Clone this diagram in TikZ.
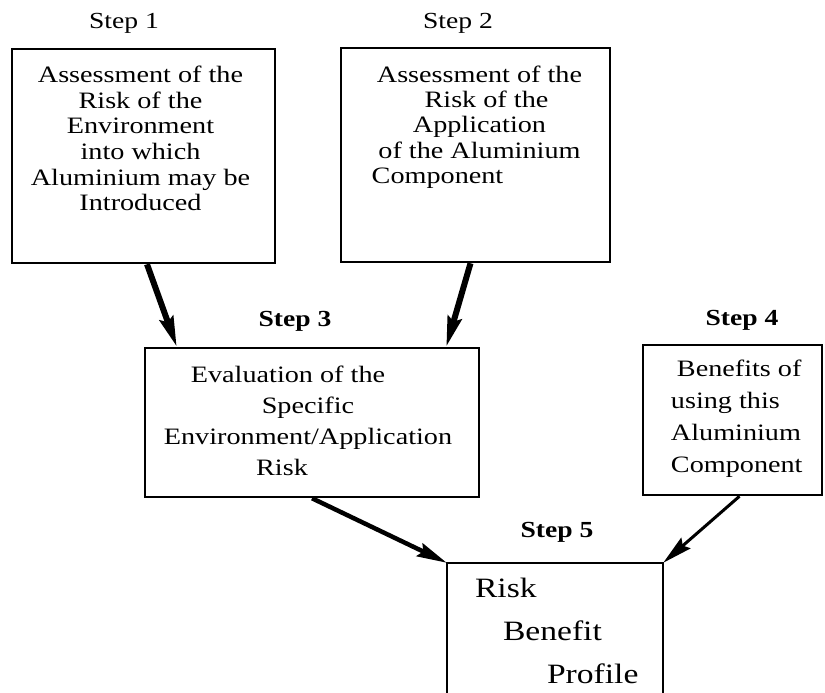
\documentclass[tikz,border=0pt]{standalone}
\usepackage{fontspec}
\setmainfont{Liberation Serif}[FakeStretch=1.2]
\usetikzlibrary{calc, arrows.meta}

\tikzset{
  frame/.style = {draw, line width=2.5pt, inner sep=0pt},
  boxtext/.style = {anchor=north, inner sep=0pt, align=center},
  steplabel/.style = {inner sep=0pt, font=\fontsize{23}{26}\selectfont},
  flow/.style = {line width=6pt, -{Stealth[length=30pt, width=14pt, inset=4pt]}}
}

\begin{document}
\begin{tikzpicture}[x=1pt, y=-1pt]
    \useasboundingbox (0,0) rectangle (825,693);
    % the five boxes
    \node[
    frame,
    minimum width = 263pt,
    minimum height = 214pt
    ] (s1) at (143.5,156){};
    \node[
    frame,
    minimum width = 269pt,
    minimum height = 214pt
    ] (s2) at (475.5,155){};
    \node[
    frame,
    minimum width = 334pt,
    minimum height = 149pt
    ] (s3) at (312,422.5){};
    \node[
    frame,
    minimum width = 179pt,
    minimum height = 150pt
    ] (s4) at (732.5,420){};
    \node[
    inner sep = 0pt,
    minimum width = 216pt,
    minimum height = 130pt
    ] (s5) at (555,628){};
    \draw[line width=2.5pt] (s5.south west) -- (s5.north west) -- (s5.north east) -- (s5.south east);
    % step labels
    \node[steplabel] (l1) at ($(s1.north)+(-19.5,-24)$){Step 1};
    \node[steplabel] (l2) at ($(s2.north)+(-17.5,-23)$){Step 2};
    \node[steplabel, font=\fontsize{23}{26}\selectfont\bfseries] (l3) at ($(s3.north)+(-17,-25)$){Step 3};
    \node[steplabel, font=\fontsize{23}{26}\selectfont\bfseries] (l4) at ($(s4.north)+(9.5,-23)$){Step 4};
    \node[steplabel, font=\fontsize{23}{26}\selectfont\bfseries] (l5) at ($(s5.north)+(2,-30)$){Step 5};
    % box texts
    \node[
    boxtext,
    font = \fontsize{23.5}{25.7}\selectfont
    ] (t1) at ($(s1.north)+(-3,18)$){Assessment of the\\Risk of the\\Environment\hspace*{36pt}\\into which\\Aluminium may be\\Introduced};
    \node[
    boxtext,
    font = \fontsize{23.5}{25.2}\selectfont
    ] (t2) at ($(s2.north)+(4,19)$){Assessment of the\\\hspace*{14pt}Risk of the\\Application\\of the Aluminium\\Component\hspace*{84pt}};
    \node[
    boxtext,
    font = \fontsize{23.5}{31}\selectfont
    ] (t3) at ($(s3.north)+(-4,19)$){Evaluation of the\hspace*{40pt}\\Specific\hspace*{46pt}\\Environment/Application\\Risk\hspace*{52pt}};
    \node[
    boxtext,
    anchor = north west,
    align = left,
    font = \fontsize{23.5}{32}\selectfont
    ] (t4) at ($(s4.north west)+(29,16)$){\hspace*{6pt}Benefits of\\using this\\Aluminium\\Component};
    \node[
    boxtext,
    anchor = north west,
    align = left,
    font = \fontsize{28}{43}\selectfont
    ] (t5) at ($(s5.north west)+(28,15)$){Risk\\\hspace*{28pt}Benefit\\\hspace*{72pt}Profile};
    % arrows
    \draw[flow] ($(s1.south)+(3.5,0)$) -- ($(s3.north west)+(33,0)$);
    \draw[flow] ($(s2.south)+(-5,0)$) -- ($(s3.north east)+(-34,0)$);
    \draw[flow, line width=4.5pt] (s3.south) -- (s5.north west);
    \draw[flow, line width=3pt] ($(s4.south)+(7,0)$) -- (s5.north east);
  \end{tikzpicture}
\end{document}
